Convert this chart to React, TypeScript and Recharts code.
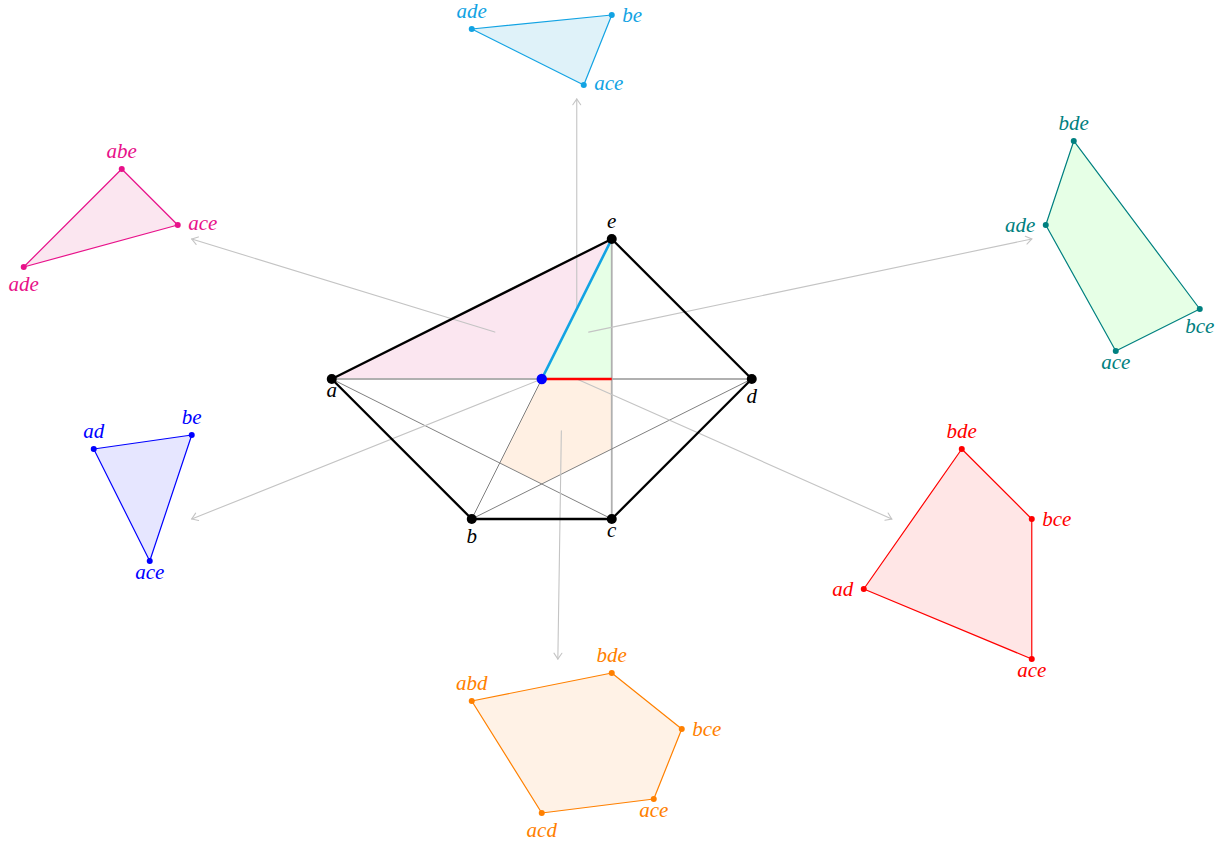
import React from "react";
import { ScatterChart, Scatter, XAxis, YAxis } from "recharts";

type Cell = { x: number; y: number; name?: string };
type Side = "above" | "below" | "left" | "right";

// central pentagon (unit = one grid step)
const pentagon: Cell[] = [
  { x: -3, y: 0, name: "a" },
  { x: 1, y: 2, name: "e" },
  { x: 3, y: 0, name: "d" },
  { x: 1, y: -2, name: "c" },
  { x: -1, y: -2, name: "b" },
];
const centerPoint: Cell[] = [{ x: 0, y: 0 }];

const pinkRegion: Cell[] = [{ x: -3, y: 0 }, { x: 1, y: 2 }, { x: 0, y: 0 }];
const greenRegion: Cell[] = [{ x: 0, y: 0 }, { x: 1, y: 2 }, { x: 1, y: 0 }];
const orangeRegion: Cell[] = [
  { x: 0, y: 0 }, { x: 1, y: 0 }, { x: 1, y: -1 }, { x: 0, y: -1.5 }, { x: -0.6, y: -1.2 },
];

const heavyChords: Cell[][] = [
  [{ x: -3, y: 0 }, { x: 3, y: 0 }],
  [{ x: 1, y: 2 }, { x: 1, y: -2 }],
];
const thinChords: Cell[][] = [
  [{ x: -3, y: 0 }, { x: 1, y: -2 }],
  [{ x: -1, y: -2 }, { x: 3, y: 0 }],
  [{ x: 0, y: 0 }, { x: -1, y: -2 }],
];
const redEdge: Cell[] = [{ x: 0, y: 0 }, { x: 1, y: 0 }];
const cyanEdge: Cell[] = [{ x: 0, y: 0 }, { x: 1, y: 2 }];

const arrows: Cell[][] = [
  [{ x: 0.5, y: 1 }, { x: 0.5, y: 4 }],
  [{ x: -0.67, y: 0.67 }, { x: -5, y: 2 }],
  [{ x: 0.67, y: 0.67 }, { x: 7, y: 2 }],
  [{ x: 0, y: 0 }, { x: -5, y: -2 }],
  [{ x: 0.5, y: 0 }, { x: 5, y: -2 }],
  [{ x: 0.28, y: -0.74 }, { x: 0.23, y: -4 }],
];

// outer cells
const cyanCells: Cell[] = [
  { x: -1, y: 5, name: "ade" }, { x: 1, y: 5.2, name: "be" }, { x: 0.6, y: 4.2, name: "ace" },
];
const pinkCells: Cell[] = [
  { x: -6, y: 3, name: "abe" }, { x: -5.2, y: 2.2, name: "ace" }, { x: -7.4, y: 1.6, name: "ade" },
];
const greenCells: Cell[] = [
  { x: 7.6, y: 3.4, name: "bde" }, { x: 9.4, y: 1, name: "bce" },
  { x: 8.2, y: 0.4, name: "ace" }, { x: 7.2, y: 2.2, name: "ade" },
];
const blueCells: Cell[] = [
  { x: -6.4, y: -1, name: "ad" }, { x: -5, y: -0.8, name: "be" }, { x: -5.6, y: -2.6, name: "ace" },
];
const redCells: Cell[] = [
  { x: 6, y: -1, name: "bde" }, { x: 7, y: -2, name: "bce" },
  { x: 7, y: -4, name: "ace" }, { x: 4.6, y: -3, name: "ad" },
];
const orangeCells: Cell[] = [
  { x: -1, y: -4.6, name: "abd" }, { x: 1, y: -4.2, name: "bde" }, { x: 2, y: -5, name: "bce" },
  { x: 1.6, y: -6, name: "ace" }, { x: 0, y: -6.2, name: "acd" },
];

// label sides
const pentagonSides: Record<string, Side> = { a: "below", b: "below", c: "below", d: "below", e: "above" };
const cyanSides: Record<string, Side> = { ade: "above", be: "right", ace: "right" };
const pinkSides: Record<string, Side> = { abe: "above", ace: "right", ade: "below" };
const greenSides: Record<string, Side> = { bde: "above", bce: "below", ace: "below", ade: "left" };
const blueSides: Record<string, Side> = { ad: "above", be: "above", ace: "below" };
const redSides: Record<string, Side> = { bde: "above", bce: "right", ace: "below", ad: "left" };
const orangeSides: Record<string, Side> = { abd: "above", bde: "above", bce: "right", ace: "below", acd: "below" };

const FONT = "'Liberation Serif', 'Times New Roman', serif";
const ARROW_GRAY = "#c4c4c4";

const noShape = () => <g />;

const polygonLine = (stroke: string, fill: string, width: number) => (p: any) => {
  const pts = (p.points || []).map((q: any) => `${q.x},${q.y}`).join(" ");
  return <polygon points={pts} fill={fill} stroke={stroke} strokeWidth={width} strokeLinejoin="round" />;
};

const segmentLine = (stroke: string, width: number) => (p: any) => {
  const pts = (p.points || []).map((q: any) => `${q.x},${q.y}`).join(" ");
  return <polyline points={pts} fill="none" stroke={stroke} strokeWidth={width} />;
};

const arrowLine = (p: any) => {
  const pts = p.points || [];
  if (pts.length < 2) return <g />;
  const s = pts[0];
  const t = pts[1];
  const ang = Math.atan2(t.y - s.y, t.x - s.x);
  const len = 7;
  const spread = 0.6;
  const h1 = { x: t.x - len * Math.cos(ang - spread), y: t.y - len * Math.sin(ang - spread) };
  const h2 = { x: t.x - len * Math.cos(ang + spread), y: t.y - len * Math.sin(ang + spread) };
  return (
    <g fill="none" stroke={ARROW_GRAY} strokeWidth={1.1} strokeLinecap="round">
      <line x1={s.x} y1={s.y} x2={t.x} y2={t.y} />
      <polyline points={`${h1.x},${h1.y} ${t.x},${t.y} ${h2.x},${h2.y}`} />
    </g>
  );
};

const dotShape = (color: string, r: number, sides: Record<string, Side>) => (p: any) => {
  const { cx, cy, payload } = p;
  const name: string = payload && payload.name ? payload.name : "";
  const side = sides[name];
  const tall = /[bdfhklt]/.test(name);
  let tx = cx;
  let ty = cy;
  let anchor: "start" | "middle" | "end" = "middle";
  if (side === "above") ty = cy - 10.5;
  else if (side === "below") ty = cy + (tall ? 24 : 18.5);
  else if (side === "right") { tx = cx + 10.5; ty = cy + (tall ? 7.5 : 5); anchor = "start"; }
  else if (side === "left") { tx = cx - 10.5; ty = cy + (tall ? 7.5 : 5); anchor = "end"; }
  return (
    <g>
      <circle cx={cx} cy={cy} r={r} fill={color} />
      {name && side ? (
        <text x={tx} y={ty} textAnchor={anchor} fill={color} fontFamily={FONT} fontStyle="italic" fontSize={21}>
          {name}
        </text>
      ) : null}
    </g>
  );
};

const outer = [
  { data: cyanCells, sides: cyanSides, stroke: "#12a3e3", fill: "#dff2f9" },
  { data: pinkCells, sides: pinkSides, stroke: "#e8118a", fill: "#fbe6f0" },
  { data: greenCells, sides: greenSides, stroke: "#008080", fill: "#e6ffe6" },
  { data: blueCells, sides: blueSides, stroke: "#0000ff", fill: "#e6e6ff" },
  { data: redCells, sides: redSides, stroke: "#ff0000", fill: "#ffe6e6" },
  { data: orangeCells, sides: orangeSides, stroke: "#ff8000", fill: "#fff2e6" },
];

export default function App() {
  return (
    <div style={{ position: "absolute", left: 0, top: 0, width: 1224, height: 841, background: "#fff" }}>
      <ScatterChart width={1224} height={841} margin={{ top: 0, right: 0, bottom: 0, left: 0 }}>
        <XAxis type="number" dataKey="x" hide domain={[-7.739, 9.746]} allowDataOverflow />
        <YAxis type="number" dataKey="y" hide domain={[-6.6, 5.414]} allowDataOverflow />

        {/* shaded regions */}
        <Scatter data={pinkRegion} line={polygonLine("none", "#fbe6f0", 0)} shape={noShape} isAnimationActive={false} />
        <Scatter data={greenRegion} line={polygonLine("none", "#e6ffe6", 0)} shape={noShape} isAnimationActive={false} />
        <Scatter data={orangeRegion} line={polygonLine("none", "#fff0e3", 0)} shape={noShape} isAnimationActive={false} />

        {/* chords */}
        {heavyChords.map((seg, i) => (
          <Scatter key={`h${i}`} data={seg} line={segmentLine("#b0b0b0", 1.8)} shape={noShape} isAnimationActive={false} />
        ))}
        {thinChords.map((seg, i) => (
          <Scatter key={`t${i}`} data={seg} line={segmentLine("#808080", 1)} shape={noShape} isAnimationActive={false} />
        ))}

        {/* arrows to the cells */}
        {arrows.map((seg, i) => (
          <Scatter key={`a${i}`} data={seg} line={arrowLine} shape={noShape} isAnimationActive={false} />
        ))}

        <Scatter data={redEdge} line={segmentLine("#ff0000", 2.6)} shape={noShape} isAnimationActive={false} />
        <Scatter data={cyanEdge} line={segmentLine("#12a3e3", 2.6)} shape={noShape} isAnimationActive={false} />

        <Scatter
          data={pentagon}
          line={polygonLine("#000", "none", 2.3)}
          shape={dotShape("#000", 5, pentagonSides)}
          isAnimationActive={false}
        />
        <Scatter data={centerPoint} shape={dotShape("#0000ff", 5.2, {})} isAnimationActive={false} />

        {outer.map((o, i) => (
          <Scatter
            key={`o${i}`}
            data={o.data}
            line={polygonLine(o.stroke, o.fill, 1.2)}
            shape={dotShape(o.stroke, 3, o.sides)}
            isAnimationActive={false}
          />
        ))}
      </ScatterChart>
    </div>
  );
}
